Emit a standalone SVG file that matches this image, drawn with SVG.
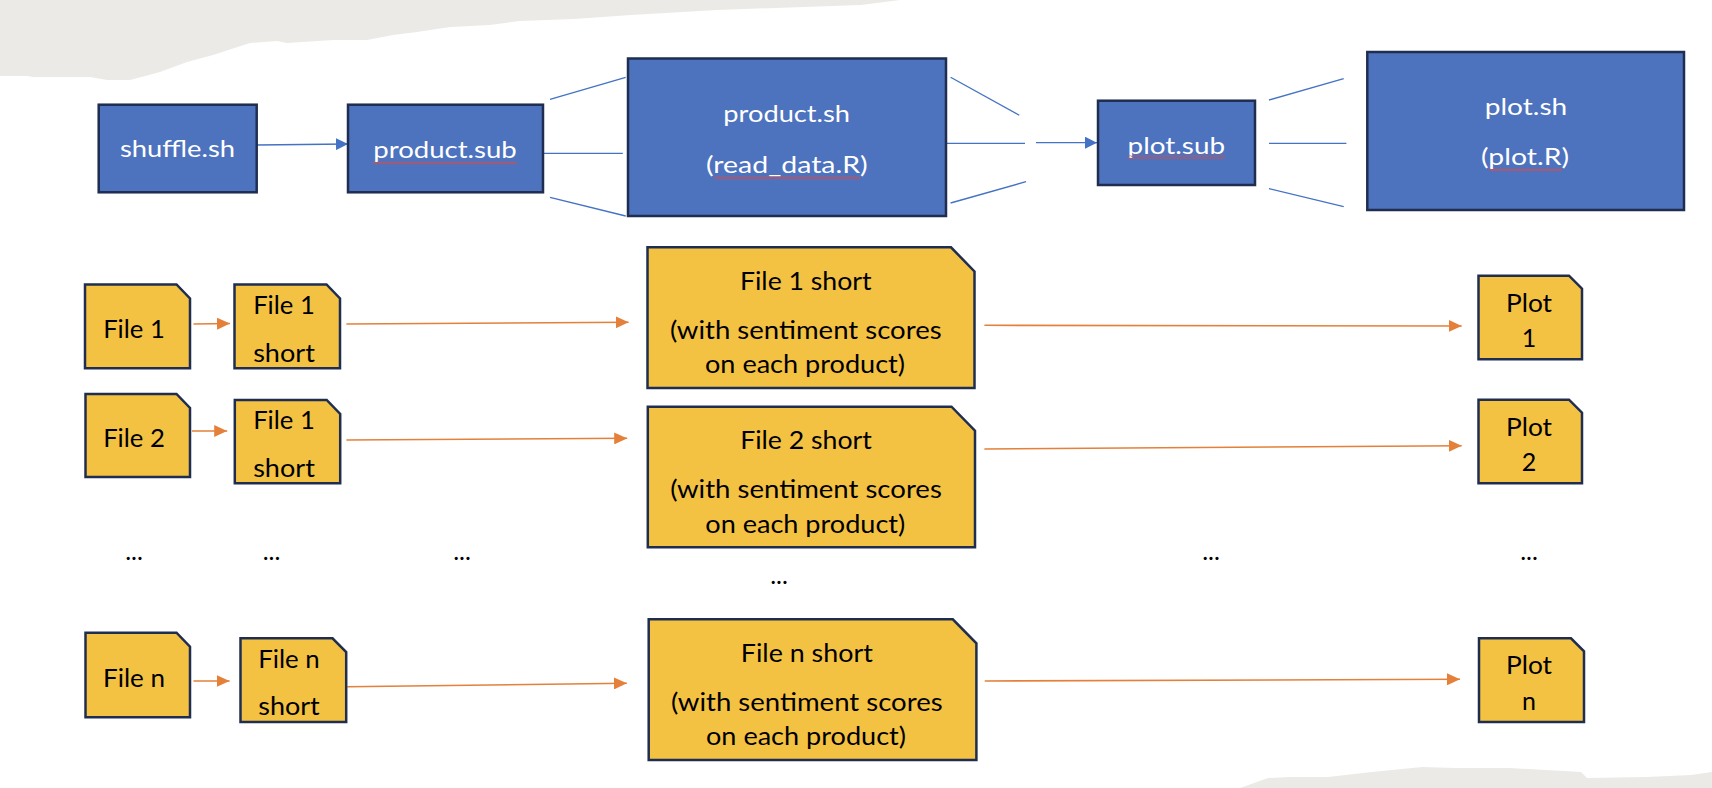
<svg xmlns="http://www.w3.org/2000/svg" width="1712" height="788" viewBox="0 0 1712 788">
<style>
.bg{fill:#ebeae7}
.blue{fill:#4d72be;stroke:#1f2e50;stroke-width:2.5}
.yel{fill:#f4c243;stroke:#1f2e50;stroke-width:2.5;stroke-linejoin:miter}
.tw{font-family:Lato,"Open Sans",sans-serif;font-size:23.5px;fill:#ffffff;text-anchor:middle}
.tb{font-family:Lato,"Open Sans",sans-serif;font-size:25px;fill:#000000;text-anchor:middle}
.bl{stroke:#4472c4;stroke-width:1.3;fill:none}
.or{stroke:#e4803a;stroke-width:1.6;fill:none}
.sq{fill:url(#squiggle)}
</style>
<defs>
<marker id="ab" markerUnits="userSpaceOnUse" markerWidth="12" markerHeight="12" refX="12" refY="6" orient="auto">
<path d="M0,0 L12,6 L0,12 Z" fill="#4472c4"/>
</marker>
<marker id="ao" markerUnits="userSpaceOnUse" markerWidth="13" markerHeight="12" refX="13" refY="6" orient="auto">
<path d="M0,0 L13,6 L0,12 Z" fill="#e4803a"/>
</marker>
<pattern id="squiggle" patternUnits="userSpaceOnUse" width="4" height="3.5">
<path d="M0,2.7 L2,0.8 L4,2.7" fill="none" stroke="#e34a3f" stroke-width="1"/>
</pattern>
</defs>
<rect width="1712" height="788" fill="#ffffff"/>
<path class="bg" d="M0,0 L900,0 L861,5 L832,6 L717,10 L631,15 L574,19 L520,21 L490,25 L450,27 L417,32 L393,35 L367,40 L333,40 L287,43 L277,41 L250,43 L213,55 L187,62 L160,72 L130,80 L107,80 L90,77 L33,77 L27,76 L0,76 Z"/>
<path class="bg" d="M1240,788 L1268,778 L1290,777 L1328,777 L1372,772 L1422,767 L1455,768 L1510,768 L1581,772 L1587,778 L1647,777 L1691,775 L1712,772 L1712,788 Z"/>

<g id="connectors">
<line class="bl" x1="256.6" y1="145" x2="348" y2="144" marker-end="url(#ab)"/>
<line class="bl" x1="550" y1="99.3" x2="625.7" y2="77.3"/>
<line class="bl" x1="543" y1="153.3" x2="622.8" y2="153.3"/>
<line class="bl" x1="550" y1="197.3" x2="625.7" y2="216"/>
<line class="bl" x1="950.6" y1="77.3" x2="1019.3" y2="115.3"/>
<line class="bl" x1="946" y1="143.3" x2="1025" y2="143.3"/>
<line class="bl" x1="1036" y1="142.7" x2="1097" y2="142.7" marker-end="url(#ab)"/>
<line class="bl" x1="950.6" y1="203" x2="1026" y2="181.7"/>
<line class="bl" x1="1269" y1="100" x2="1343.7" y2="78.7"/>
<line class="bl" x1="1269" y1="143.3" x2="1346.4" y2="143.3"/>
<line class="bl" x1="1269" y1="188.7" x2="1343.7" y2="206.7"/>

<line class="or" x1="193.5" y1="324" x2="230" y2="323.5" marker-end="url(#ao)"/>
<line class="or" x1="346.4" y1="324" x2="628.6" y2="322.3" marker-end="url(#ao)"/>
<line class="or" x1="984.4" y1="325.3" x2="1461.7" y2="326" marker-end="url(#ao)"/>
<line class="or" x1="192" y1="431" x2="227.2" y2="431" marker-end="url(#ao)"/>
<line class="or" x1="346.4" y1="440" x2="627.2" y2="438.3" marker-end="url(#ao)"/>
<line class="or" x1="984.4" y1="449" x2="1461.7" y2="445.7" marker-end="url(#ao)"/>
<line class="or" x1="193.5" y1="681" x2="229.6" y2="681" marker-end="url(#ao)"/>
<line class="or" x1="347.3" y1="686.7" x2="626.9" y2="683.3" marker-end="url(#ao)"/>
<line class="or" x1="984.7" y1="681" x2="1460" y2="679.3" marker-end="url(#ao)"/>
</g>

<g id="shuffle_sh">
<rect class="blue" x="98.7" y="104.7" width="158" height="87.6"/>
<text class="tw" x="177.5" y="157" textLength="115" lengthAdjust="spacingAndGlyphs">shuffle.sh</text>
</g>
<g id="product_sub">
<rect class="blue" x="348" y="104.7" width="195" height="87.6"/>
<text class="tw" x="445" y="158" textLength="143.5" lengthAdjust="spacingAndGlyphs">product.sub</text>
<rect class="sq" x="373" y="161.5" width="143.5" height="3.5"/>
</g>
<g id="product_sh">
<rect class="blue" x="628" y="58.5" width="318" height="157.5"/>
<text class="tw" x="786.7" y="121.7" textLength="126.7" lengthAdjust="spacingAndGlyphs">product.sh</text>
<text class="tw" x="786.8" y="173" textLength="161.7" lengthAdjust="spacingAndGlyphs">(read_data.R)</text>
<rect class="sq" x="714.3" y="176.5" width="145.7" height="3.5"/>
</g>
<g id="plot_sub">
<rect class="blue" x="1098" y="100.7" width="157" height="84.3"/>
<text class="tw" x="1176.3" y="153.5" textLength="97.4" lengthAdjust="spacingAndGlyphs">plot.sub</text>
<rect class="sq" x="1127.6" y="155.5" width="97.4" height="3.5"/>
</g>
<g id="plot_sh">
<rect class="blue" x="1367.3" y="52" width="316.7" height="158"/>
<text class="tw" x="1526" y="115" textLength="82.5" lengthAdjust="spacingAndGlyphs">plot.sh</text>
<text class="tw" x="1525" y="165" textLength="88" lengthAdjust="spacingAndGlyphs">(plot.R)</text>
<rect class="sq" x="1489" y="168.5" width="73" height="3.5"/>
</g>

<g id="file_1">
<polygon class="yel" points="85,284.5 176.5,284.5 190,298.5 190,368.3 85,368.3"/>
<text class="tb" x="134" y="338.3" textLength="61.7" lengthAdjust="spacingAndGlyphs">File 1</text>
</g>
<g id="file_1_short_a">
<polygon class="yel" points="234.5,284.5 326.5,284.5 340,298.5 340,368.3 234.5,368.3"/>
<text class="tb" x="284" y="314" textLength="61.7" lengthAdjust="spacingAndGlyphs">File 1</text>
<text class="tb" x="284" y="361.7" textLength="61.7" lengthAdjust="spacingAndGlyphs">short</text>
</g>
<g id="file_1_short_scored">
<polygon class="yel" points="647.5,247.3 951,247.3 974.5,271.5 974.5,388 647.5,388"/>
<text class="tb" x="805.8" y="290" textLength="131.7" lengthAdjust="spacingAndGlyphs">File 1 short</text>
<text class="tb" x="805.8" y="339.3" textLength="271.7" lengthAdjust="spacingAndGlyphs">(with sentiment scores</text>
<text class="tb" x="805" y="373.3" textLength="200" lengthAdjust="spacingAndGlyphs">on each product)</text>
</g>
<g id="plot_1">
<polygon class="yel" points="1478.5,275.7 1569,275.7 1582,288.7 1582,359.3 1478.5,359.3"/>
<text class="tb" x="1529" y="311.7" textLength="46" lengthAdjust="spacingAndGlyphs">Plot</text>
<text class="tb" x="1529" y="346.7">1</text>
</g>

<g id="file_2">
<polygon class="yel" points="85.5,394 176.5,394 190,408 190,477 85.5,477"/>
<text class="tb" x="134" y="446.7" textLength="61.7" lengthAdjust="spacingAndGlyphs">File 2</text>
</g>
<g id="file_1_short_b">
<polygon class="yel" points="234.8,400 326.7,400 340.2,414 340.2,483.3 234.8,483.3"/>
<text class="tb" x="284" y="429.3" textLength="61.7" lengthAdjust="spacingAndGlyphs">File 1</text>
<text class="tb" x="284" y="476.7" textLength="61.7" lengthAdjust="spacingAndGlyphs">short</text>
</g>
<g id="file_2_short_scored">
<polygon class="yel" points="647.8,406.7 951.5,406.7 975,430.7 975,547.3 647.8,547.3"/>
<text class="tb" x="806" y="449.3" textLength="131.7" lengthAdjust="spacingAndGlyphs">File 2 short</text>
<text class="tb" x="806" y="498" textLength="271.7" lengthAdjust="spacingAndGlyphs">(with sentiment scores</text>
<text class="tb" x="805.3" y="533" textLength="200" lengthAdjust="spacingAndGlyphs">on each product)</text>
</g>
<g id="plot_2">
<polygon class="yel" points="1478.5,399.7 1569,399.7 1582,412.7 1582,483.3 1478.5,483.3"/>
<text class="tb" x="1529" y="435.5" textLength="46" lengthAdjust="spacingAndGlyphs">Plot</text>
<text class="tb" x="1529" y="470.5">2</text>
</g>

<g id="ellipses">
<text class="tb" x="134" y="560">...</text>
<text class="tb" x="271.5" y="560">...</text>
<text class="tb" x="462" y="560">...</text>
<text class="tb" x="779" y="584">...</text>
<text class="tb" x="1211" y="560">...</text>
<text class="tb" x="1529" y="560">...</text>
</g>

<g id="file_n">
<polygon class="yel" points="85.5,632.7 176.5,632.7 190,646.7 190,717.3 85.5,717.3"/>
<text class="tb" x="134" y="686.7" textLength="62" lengthAdjust="spacingAndGlyphs">File n</text>
</g>
<g id="file_n_short">
<polygon class="yel" points="240.5,638.3 332.5,638.3 346.2,652 346.2,722 240.5,722"/>
<text class="tb" x="289" y="668.3" textLength="61.5" lengthAdjust="spacingAndGlyphs">File n</text>
<text class="tb" x="289" y="715" textLength="61.5" lengthAdjust="spacingAndGlyphs">short</text>
</g>
<g id="file_n_short_scored">
<polygon class="yel" points="648.7,619.3 952.8,619.3 976.4,643.3 976.4,760 648.7,760"/>
<text class="tb" x="806.8" y="661.8" textLength="132" lengthAdjust="spacingAndGlyphs">File n short</text>
<text class="tb" x="806.8" y="710.5" textLength="271.7" lengthAdjust="spacingAndGlyphs">(with sentiment scores</text>
<text class="tb" x="806" y="745" textLength="200" lengthAdjust="spacingAndGlyphs">on each product)</text>
</g>
<g id="plot_n">
<polygon class="yel" points="1479,638.3 1571,638.3 1584,651.3 1584,722 1479,722"/>
<text class="tb" x="1529" y="674.3" textLength="46" lengthAdjust="spacingAndGlyphs">Plot</text>
<text class="tb" x="1529" y="709.5">n</text>
</g>
</svg>
